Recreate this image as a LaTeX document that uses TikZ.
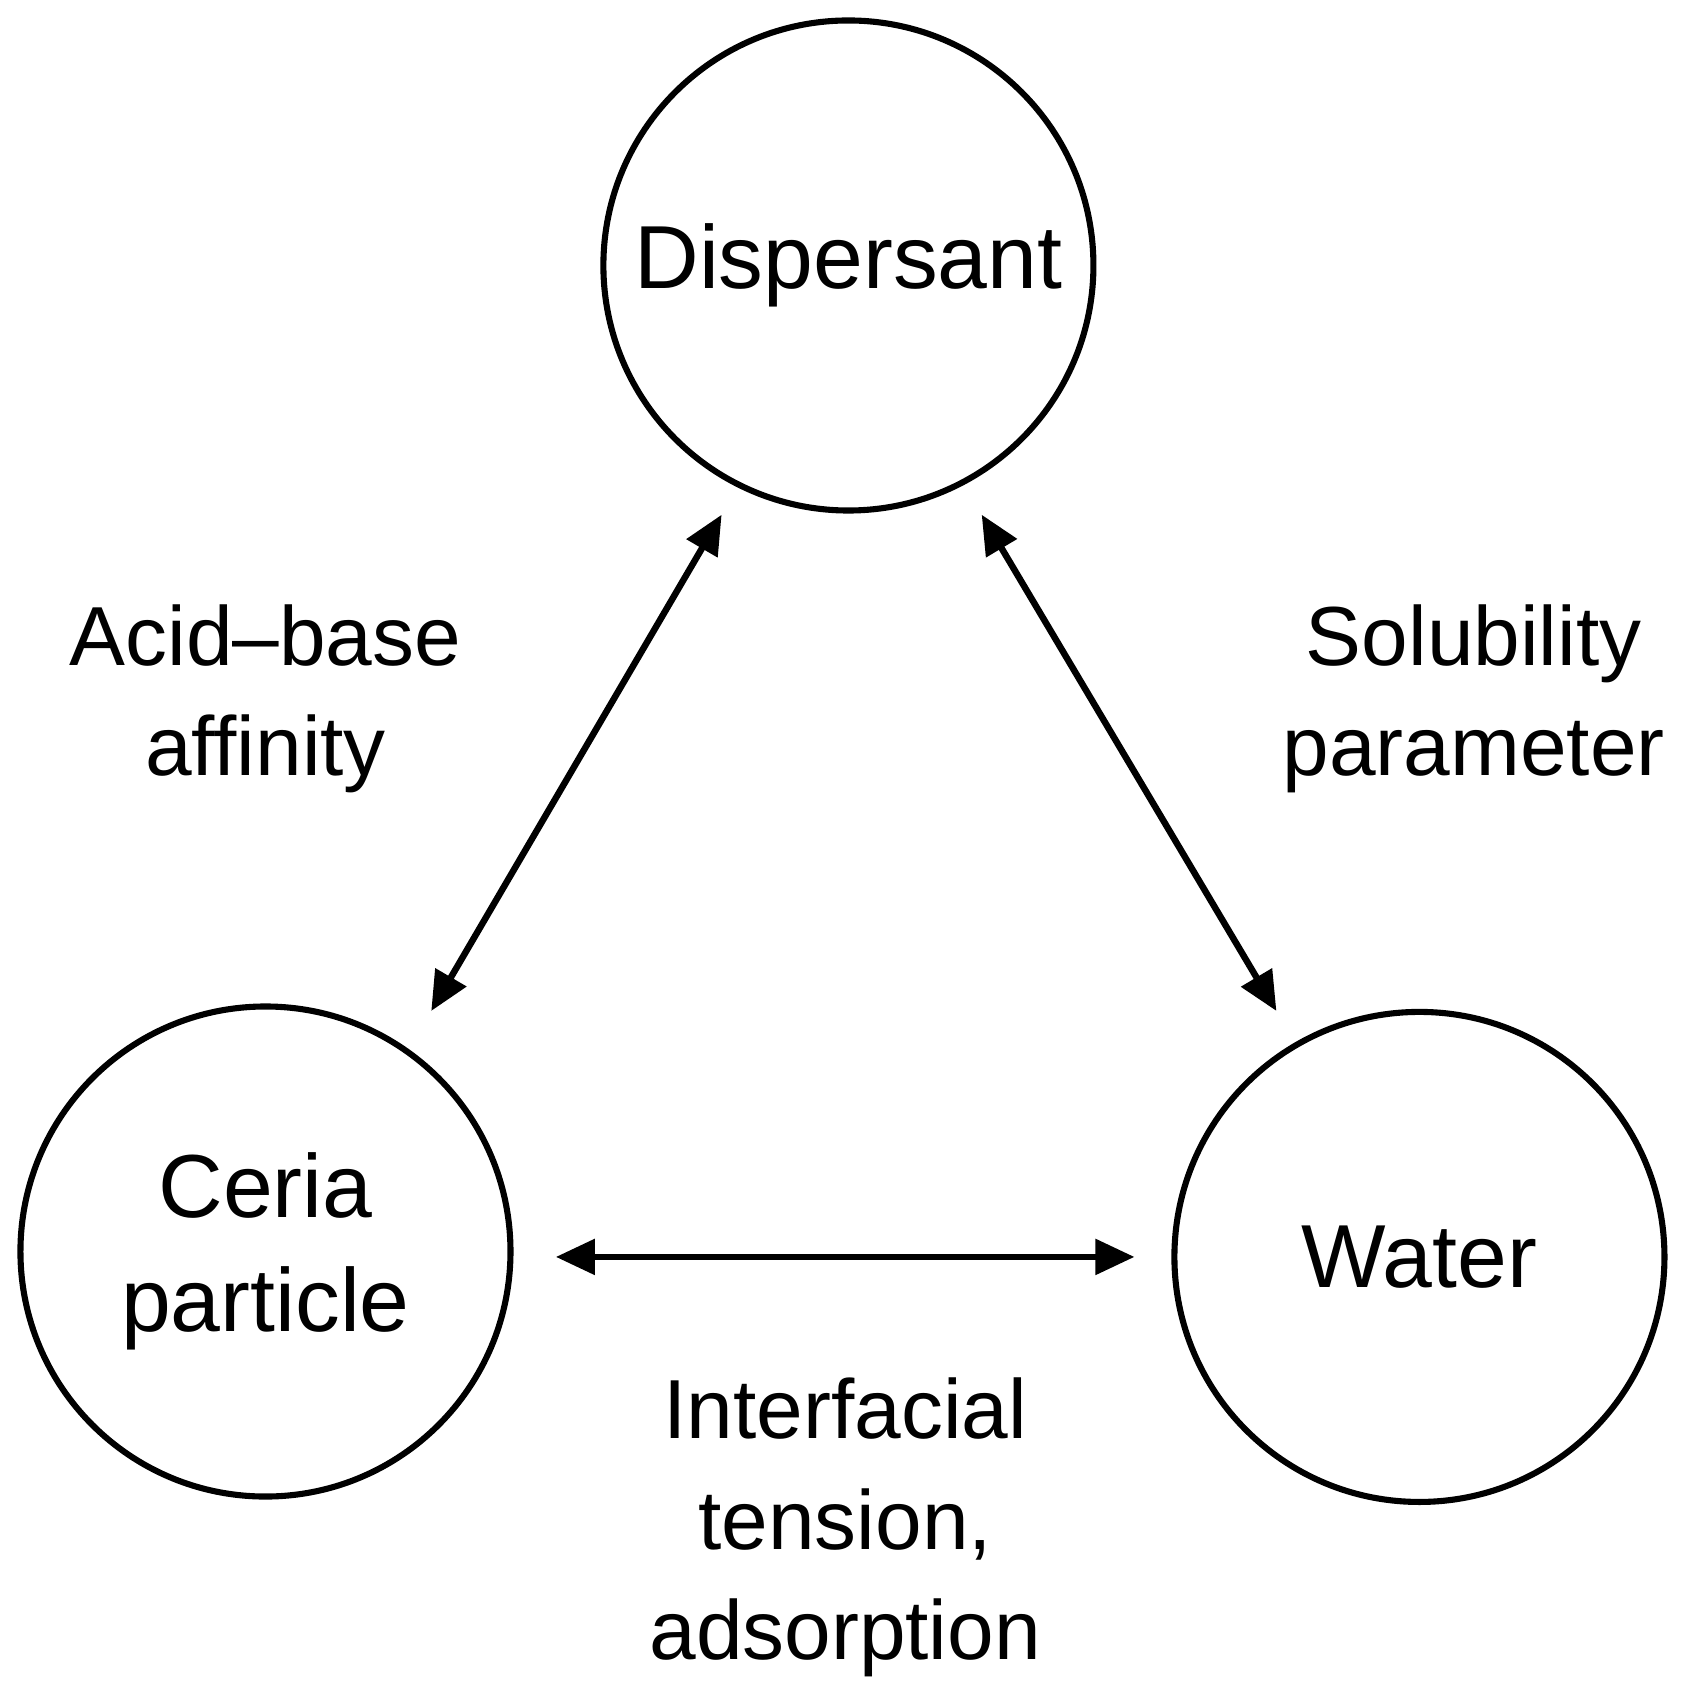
\documentclass[tikz,border=0pt]{standalone}
\usepackage{fontspec}
\usetikzlibrary{arrows.meta}
\setmainfont{Liberation Sans}
\begin{document}
\begin{tikzpicture}[x=0.01cm,y=-0.01cm,
  circ/.style={circle,draw,line width=1.6pt,minimum size=4.52cm,inner sep=0pt,align=center,font=\fontsize{23.5}{30}\selectfont},
  lab/.style={align=center,font=\fontsize{22}{29}\selectfont},
  arr/.style={{Triangle[length=0.36cm,width=0.32cm]}-{Triangle[length=0.36cm,width=0.32cm]},line width=1.7pt}]
\useasboundingbox (0,0) rectangle (1560,1568);
\node[circ] (d) at (783,245) {Dispersant};
\node[circ] (c) at (245,1155) {Ceria\\particle};
\node[circ] (w) at (1310,1160) {Water};
\coordinate (d1) at (666,475);
\coordinate (c1) at (398,933);
\coordinate (d2) at (906,475);
\coordinate (w1) at (1178,933);
\coordinate (c2) at (513,1160);
\coordinate (w2) at (1047,1160);
\draw[arr] (d1) -- (c1);
\draw[arr] (d2) -- (w1);
\draw[arr] (c2) -- (w2);
\node[lab] (l1) at (245,645) {Acid–base\\affinity};
\node[lab] (l2) at (1360,645) {Solubility\\parameter};
\node[lab] (l3) at (780,1410) {Interfacial\\tension,\\adsorption};
\end{tikzpicture}
\end{document}
